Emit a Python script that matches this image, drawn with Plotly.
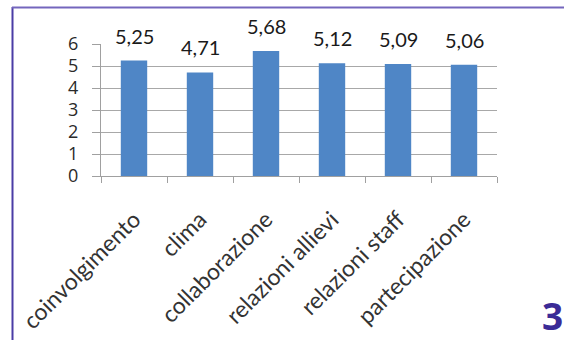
import plotly.graph_objects as go

categories = ["coinvolgimento", "clima", "collaborazione", "relazioni allievi",
              "relazioni staff", "partecipazione"]
values = [5.25, 4.71, 5.68, 5.12, 5.09, 5.06]
value_labels = ["5,25", "4,71", "5,68", "5,12", "5,09", "5,06"]
y_ticks = [0, 1, 2, 3, 4, 5, 6]

W, H = 564, 340
L, R, T, B = 101, 67, 44, 164
pw, ph = W - L - R, H - T - B


def px_x(x):
    return (x - L) / pw


def px_y(y):
    return (H - B - y) / ph


fig = go.Figure()
fig.add_bar(x=categories, y=values, marker_color="#4f86c6", marker_line_width=0,
            width=0.4, hoverinfo="skip")

for c, v, t in zip(categories, values, value_labels):
    fig.add_annotation(x=c, y=v, text=t, showarrow=False, yanchor="bottom",
                       yshift=11, font=dict(family="Lato", size=20, color="#1a1a1a"))

# page frame: purple rule on the left and on top, figure number bottom right
frame_col = "#4b3ca6"
fig.add_shape(type="line", xref="paper", yref="paper",
              x0=px_x(12.5), x1=px_x(12.5), y0=px_y(7), y1=px_y(345),
              line=dict(color=frame_col, width=2))
fig.add_shape(type="line", xref="paper", yref="paper",
              x0=px_x(12), x1=px_x(570), y0=px_y(7.5), y1=px_y(7.5),
              line=dict(color="#7466bd", width=2))
fig.add_annotation(xref="paper", yref="paper", x=px_x(565), y=px_y(343),
                   xanchor="right", yanchor="bottom", showarrow=False, text="<b>3</b>",
                   font=dict(family="Open Sans", size=37, color="#3b2b96"))

fig.update_layout(
    width=W, height=H, margin=dict(l=L, r=R, t=T, b=B, autoexpand=False),
    paper_bgcolor="white", plot_bgcolor="white", showlegend=False,
    bargap=0.6,
)
fig.update_xaxes(
    type="category", tickson="boundaries", ticks="outside", ticklen=6,
    tickcolor="#a0a0a0", showline=True, linecolor="#a0a0a0", linewidth=1,
    showgrid=False, tickangle=-45, ticklabelstandoff=20, automargin=False,
    tickfont=dict(family="Lato", size=23, color="#333333"),
)
fig.update_yaxes(
    range=[0, 6], tickvals=y_ticks, ticks="outside", ticklen=8,
    tickcolor="#a0a0a0", showline=True, linecolor="#a0a0a0", linewidth=1,
    showgrid=True, gridcolor="#a8a8a8", gridwidth=1, zeroline=False,
    ticklabelstandoff=10, automargin=False,
    tickfont=dict(family="Open Sans", size=18, color="#2a2a2a"),
)

fig.write_html("out.html")
